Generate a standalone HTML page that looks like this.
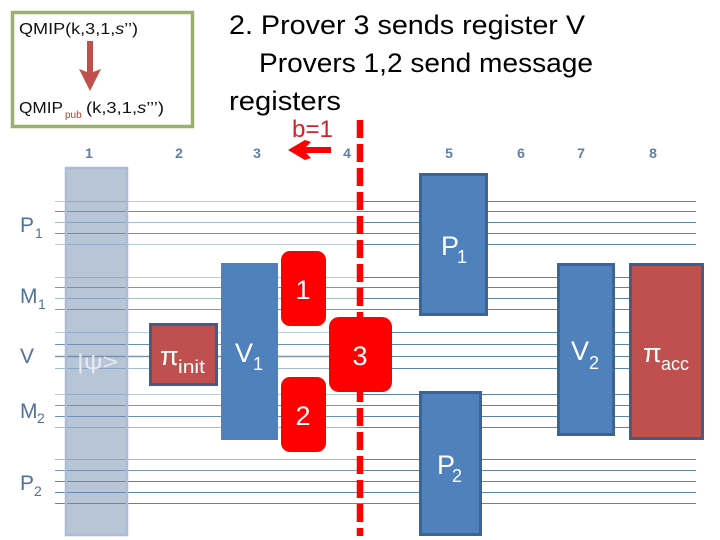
<!DOCTYPE html>
<html><head><meta charset="utf-8"><style>
html,body{margin:0;padding:0;background:#fff}
svg{display:block}
text{font-family:"Liberation Sans",sans-serif}
</style></head><body>
<svg width="720" height="540" viewBox="0 0 720 540" xmlns="http://www.w3.org/2000/svg">
<rect x="0" y="0" width="720" height="540" fill="#fff"/>
<!-- wires right of divider -->
<g stroke="#5f83a8" stroke-width="1">
<path d="M357 201.500H696M357 211.500H696M357 222.500H696M357 233.500H696M357 244.500H696"/>
<path d="M357 277.500H696M357 287.500H696M357 298.500H696M357 309.500H696"/>
<path d="M357 332.500H696M357 344.500H696M357 356.500H696M357 368.500H696"/>
<path d="M357 394.500H696M357 405.500H696M357 416.500H696M357 427.500H696"/>
<path d="M357 459.500H696M357 470.500H696M357 481.500H696M357 492.500H696M357 503.500H696"/>
</g>
<!-- wires left of divider -->
<g stroke-width="1">
<path stroke="#b9cbde" d="M55 201.500H357M55 244.500H357M55 277.500H357M55 332.500H357M55 394.500H357"/>
<path stroke="#a5bbd2" d="M55 222.500H357M55 298.500H357M55 368.500H357M55 427.500H357M55 459.500H357"/>
<path stroke="#6d8fb3" d="M55 211.500H357M55 233.500H357M55 344.500H357M55 416.500H357"/>
<path stroke="#7897b9" d="M55 287.500H357M55 309.500H357M55 405.500H357M55 470.500H357"/>
<path stroke="#7f93ab" stroke-width="1.500" d="M55 356.500H357"/>
<path stroke="#5f83a8" d="M55 481.500H357M55 492.500H357M55 503.500H357"/>
</g>
<!-- psi column -->
<rect x="66" y="168" width="61" height="367" fill="#6f8bb0" fill-opacity=".5" stroke="#a9bdd6" stroke-width="2.500"/>
<!-- green box -->
<rect x="12.500" y="12.500" width="180" height="114" fill="#fff" stroke="#9bb168" stroke-width="3.500"/>
<text x="19" y="34" font-size="16" fill="#111" textLength="119" lengthAdjust="spacingAndGlyphs">QMIP(k,3,1,<tspan font-style="italic">s</tspan>’’)</text>
<text x="19" y="113" font-size="16" fill="#111" textLength="44" lengthAdjust="spacingAndGlyphs">QMIP</text>
<text x="65" y="118" font-size="10" fill="#c0392b">pub</text>
<text x="86" y="113" font-size="16" fill="#111" textLength="78" lengthAdjust="spacingAndGlyphs">(k,3,1,<tspan font-style="italic">s</tspan>’’’)</text>
<path d="M87 41H93V72L101 69L90 91L79 69L87 72Z" fill="#c0504d"/>
<!-- title -->
<g font-size="27" fill="#000">
<text x="229" y="34" textLength="356" lengthAdjust="spacingAndGlyphs">2. Prover 3 sends register V</text>
<text x="259" y="72" textLength="334" lengthAdjust="spacingAndGlyphs">Provers 1,2 send message</text>
<text x="229" y="110" textLength="112" lengthAdjust="spacingAndGlyphs">registers</text>
</g>
<text x="292" y="137" font-size="24" fill="#d0232b" textLength="41" lengthAdjust="spacingAndGlyphs">b=1</text>
<path d="M331 147H306L311 142L305 140L288 150L305 160L311 158L306 153H331Z" fill="#f00"/>
<!-- column numbers -->
<g font-size="14" font-weight="bold" fill="#5f7fa8" text-anchor="middle">
<text x="89" y="158">1</text><text x="179" y="158">2</text><text x="257" y="158">3</text><text x="347" y="158">4</text>
<text x="449" y="158">5</text><text x="521" y="158">6</text><text x="581" y="158">7</text><text x="653" y="158">8</text>
</g>
<!-- left labels -->
<g fill="#4f7299" font-size="21">
<text x="20" y="232">P</text><text x="35" y="238" font-size="14">1</text>
<text x="20" y="303">M</text><text x="38" y="309" font-size="14">1</text>
<text x="20" y="363">V</text>
<text x="20" y="418">M</text><text x="37" y="423" font-size="14">2</text>
<text x="20" y="490">P</text><text x="34" y="496" font-size="14">2</text>
</g>
<text x="77" y="369" font-size="21" fill="#e6ebf2" textLength="41" lengthAdjust="spacingAndGlyphs">|ψ&gt;</text>
<!-- dashed line -->
<line x1="360" y1="120" x2="360" y2="536" stroke="#f00" stroke-width="6.500" stroke-dasharray="18 6"/>
<!-- blocks -->
<rect x="221" y="263" width="57" height="177" fill="#4f81bd"/>
<rect x="150.500" y="324.500" width="66" height="60" fill="#c0504d" stroke="#3f5f8a" stroke-width="3"/>
<rect x="420.500" y="174.500" width="66" height="140" fill="#4f81bd" stroke="#3b6593" stroke-width="3"/>
<rect x="420.500" y="392.500" width="60" height="142" fill="#4f81bd" stroke="#3b6593" stroke-width="3"/>
<rect x="558.500" y="264.500" width="55" height="170" fill="#4f81bd" stroke="#3b6593" stroke-width="3"/>
<rect x="630.500" y="264.500" width="72" height="174" fill="#c0504d" stroke="#3f5f8a" stroke-width="3"/>
<!-- red -->
<rect x="281" y="251" width="45" height="75" rx="9" fill="#f00"/>
<rect x="281" y="377" width="45" height="75" rx="9" fill="#f00"/>
<rect x="329" y="317" width="63" height="75" rx="10" fill="#f00"/>
<!-- block text -->
<g fill="#fff">
<text x="303" y="299" font-size="27" text-anchor="middle">1</text>
<text x="303" y="425" font-size="27" text-anchor="middle">2</text>
<text x="360" y="365" font-size="27" text-anchor="middle">3</text>
<text x="441" y="255" font-size="27">P</text><text x="457" y="263" font-size="18">1</text>
<text x="437" y="474" font-size="27">P</text><text x="452" y="482" font-size="18">2</text>
<text x="235" y="362" font-size="27">V</text><text x="253" y="370" font-size="18">1</text>
<text x="571" y="360" font-size="27">V</text><text x="589" y="369" font-size="18">2</text>
<text x="160" y="365" font-size="27">π</text><text x="178" y="373" font-size="18" textLength="27" lengthAdjust="spacingAndGlyphs">init</text>
<text x="643" y="362" font-size="27">π</text><text x="661" y="370" font-size="18" textLength="28" lengthAdjust="spacingAndGlyphs">acc</text>
</g>
</svg>
</body></html>
